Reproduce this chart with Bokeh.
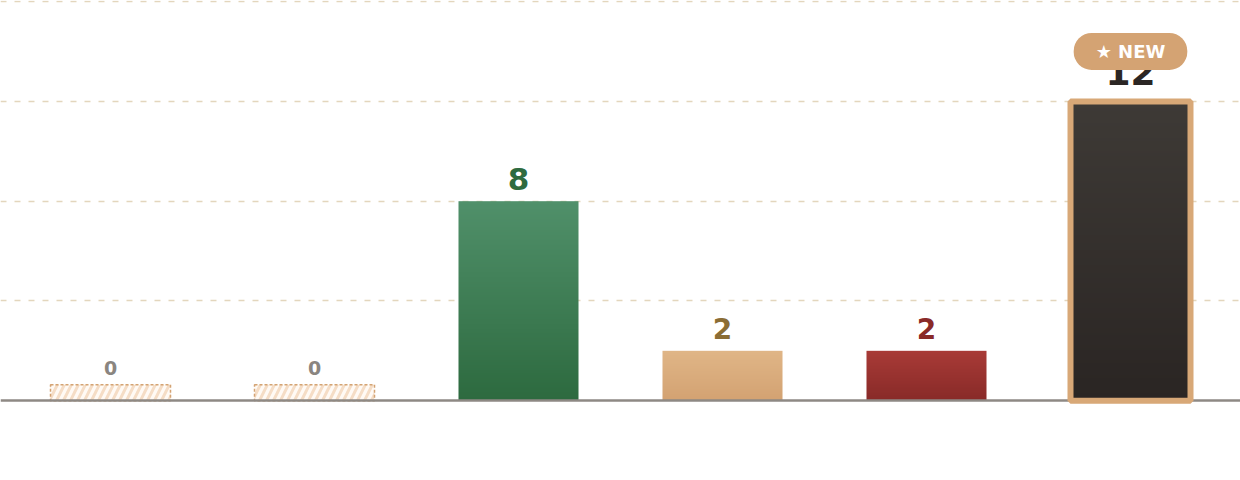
import numpy as np
from bokeh.plotting import figure
from bokeh.models import Range1d, Grid, FixedTicker, Label, ColumnDataSource
from bokeh.embed import file_html
from bokeh.resources import INLINE
from bokeh.core.properties import value

# ---------------- data ----------------
values = [0, 0, 8, 2, 2, 12]
top_colors = ["#fffaf5", "#fffaf5", "#50906a", "#e0b687", "#a93b37", "#3e3a36"]
bottom_colors = ["#fffaf5", "#fffaf5", "#2d6a3f", "#d3a272", "#882a28", "#2a2523"]
label_colors = ["#8a8580", "#8a8580", "#2e6b40", "#8b6d35", "#8a2a28", "#2b2624"]
label_sizes = ["19px", "19px", "31px", "28px", "28px", "36px"]
grid_ticks = [4, 8, 12, 16]
badge_text = "★ NEW"

# ---------------- style / layout ----------------
W, H = 1240, 480
BASELINE_PX = 400          # distance of zero line from top of figure
PPU = BASELINE_PX / grid_ticks[-1]
STEP_PX = 204
FIRST_PX = 110
BAR_W = 120 / STEP_PX
STUB_PX = 16
ROWS = 120

def rgb(c):
    return np.array([int(c[i:i + 2], 16) for i in (1, 3, 5)], float)

n = len(values)
xs = list(range(n))
x0 = -FIRST_PX / STEP_PX

p = figure(width=W, height=H, output_backend="svg", toolbar_location=None,
           x_axis_location=None, y_axis_location=None,
           x_range=Range1d(x0, x0 + W / STEP_PX),
           y_range=Range1d(-(H - BASELINE_PX) / PPU, grid_ticks[-1] + 1.2 / PPU),
           min_border=0, outline_line_color=None,
           background_fill_color="white", border_fill_color="white")
p.grid.visible = False

grid = Grid(dimension=1, ticker=FixedTicker(ticks=grid_ticks),
            grid_line_color="#e3d6bd", grid_line_width=1.6, grid_line_dash="6 8")
p.add_layout(grid)

# gradient bars as stretched images (row 0 = bottom)
for i, v in enumerate(values):
    if v <= 0:
        continue
    a, b = rgb(bottom_colors[i]), rgb(top_colors[i])
    t = np.linspace(0, 1, ROWS)[:, None]
    cols = a + (b - a) * t
    img = np.empty((ROWS, 2), dtype=np.uint32)
    view = img.view(dtype=np.uint8).reshape((ROWS, 2, 4))
    view[:, :, 0] = np.round(cols[:, 0:1]).astype(np.uint8)
    view[:, :, 1] = np.round(cols[:, 1:2]).astype(np.uint8)
    view[:, :, 2] = np.round(cols[:, 2:3]).astype(np.uint8)
    view[:, :, 3] = 255
    p.image_rgba(image=[img], x=i - BAR_W / 2, y=0, dw=BAR_W, dh=v)

# zero placeholders
zi = [i for i, v in enumerate(values) if v == 0]
stub = STUB_PX / PPU
p.vbar(x=zi, top=[stub] * len(zi), bottom=0, width=BAR_W,
       fill_color=[top_colors[i] for i in zi], line_color="#d4a373", line_width=1.5,
       line_dash="3 2", hatch_pattern="/", hatch_color="#f5ddc6",
       hatch_scale=14, hatch_weight=3)

# zero line
p.hspan(y=[0], line_color="#8e8984", line_width=2.5)

# highlighted (max) bar border
hi = values.index(max(values))
p.vbar(x=[hi], top=[values[hi]], bottom=0, width=BAR_W, fill_color=None,
       line_color="#d8a877", line_width=6)

# value labels (gap above bar in px, converted to data units)
gaps = []
for i, v in enumerate(values):
    if v == 0:
        gaps.append(17)
    elif i == hi:
        gaps.append(30)
    else:
        gaps.append(22)
src = ColumnDataSource(dict(
    x=xs,
    y=[(v if v > 0 else stub) + g / PPU for v, g in zip(values, gaps)],
    text=[str(v) for v in values],
    color=label_colors,
    size=label_sizes,
))
p.text(x="x", y="y", text="text", text_color="color", text_font_size="size",
       text_align="center", text_baseline="alphabetic",
       text_font=value("DejaVu Sans"), text_font_style="bold", source=src)

badge = Label(x=hi, y=values[hi], y_offset=50, text=badge_text,
              text_align="center", text_baseline="middle",
              text_color="white", text_font="DejaVu Sans", text_font_style="bold",
              text_font_size="18px",
              background_fill_color="#d4a373", background_fill_alpha=1.0,
              border_radius=18,
              padding=dict(left=22, right=22, top=8, bottom=8))
p.add_layout(badge)

open("out.html", "w").write(file_html(p, INLINE))
